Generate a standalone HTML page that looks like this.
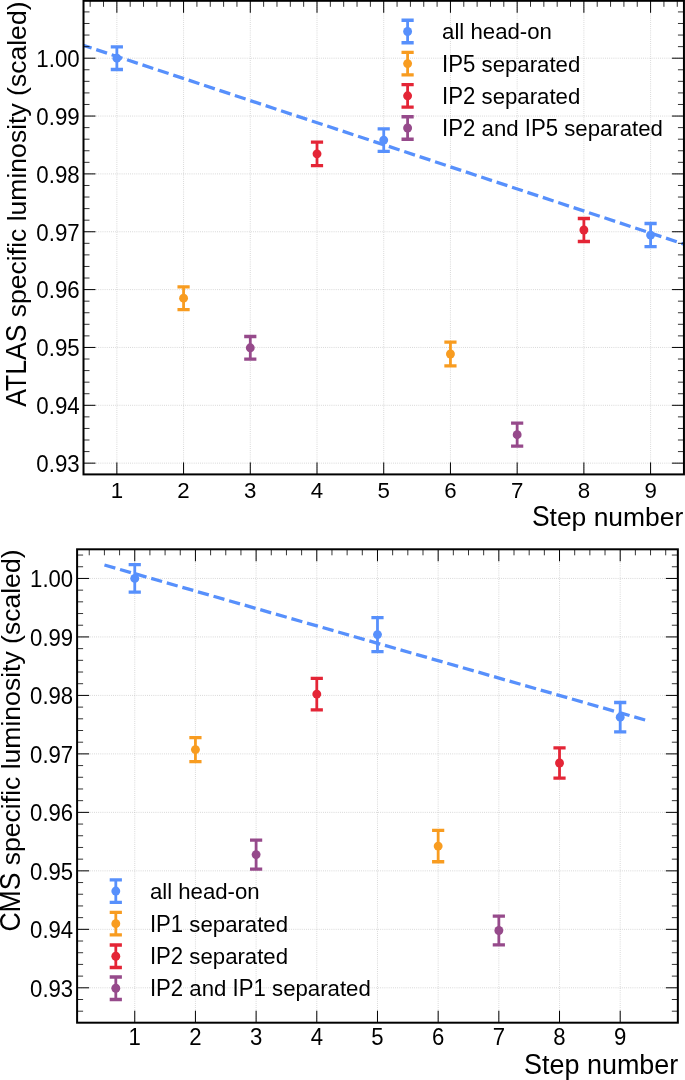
<!DOCTYPE html>
<html lang="en">
<head>
<meta charset="utf-8">
<title>Specific luminosity vs step number</title>
<style>
html,body{margin:0;padding:0;background:#fff;}
body{width:685px;height:1080px;overflow:hidden;}
svg{display:block;will-change:transform;}
svg text{font-family:"Liberation Sans", Arial, Helvetica, sans-serif;fill:#000;}
</style>
</head>
<body>
<svg width="685" height="1080" viewBox="0 0 685 1080">
<rect width="685" height="1080" fill="#fff"/>
<clipPath id="clipA"><rect x="83.5" y="0.8" width="600.45" height="473.6"/></clipPath>
<path d="M116.86 0.8V474.4M183.57 0.8V474.4M250.29 0.8V474.4M317.01 0.8V474.4M383.73 0.8V474.4M450.44 0.8V474.4M517.16 0.8V474.4M583.88 0.8V474.4M650.59 0.8V474.4M83.5 463.15H683.95M83.5 405.3H683.95M83.5 347.45H683.95M83.5 289.6H683.95M83.5 231.75H683.95M83.5 173.9H683.95M83.5 116.05H683.95M83.5 58.2H683.95" fill="none" stroke="#b0b0b0" stroke-width="0.8" stroke-dasharray="0.8 1.32" stroke-opacity="0.75" clip-path="url(#clipA)"/>
<path d="M80.87 44.5L685 244.47" fill="none" stroke="#5790fc" stroke-width="3.3" stroke-dasharray="11.32 4.90" stroke-dashoffset="0" clip-path="url(#clipA)"/>
<g stroke="#5790fc" fill="#5790fc"><path d="M116.86 46.9V69.5" stroke-width="2.8"/><path d="M110.76 46.9h12.2M110.76 69.5h12.2" stroke-width="3.3"/><circle cx="116.86" cy="58.2" r="4.45" stroke="none"/></g>
<g stroke="#f89c20" fill="#f89c20"><path d="M183.57 286.8V309.6" stroke-width="2.8"/><path d="M177.47 286.8h12.2M177.47 309.6h12.2" stroke-width="3.3"/><circle cx="183.57" cy="298.2" r="4.45" stroke="none"/></g>
<g stroke="#964a8b" fill="#964a8b"><path d="M250.29 336.5V359.1" stroke-width="2.8"/><path d="M244.19 336.5h12.2M244.19 359.1h12.2" stroke-width="3.3"/><circle cx="250.29" cy="347.8" r="4.45" stroke="none"/></g>
<g stroke="#e42536" fill="#e42536"><path d="M317.01 142.15V165.55" stroke-width="2.8"/><path d="M310.91 142.15h12.2M310.91 165.55h12.2" stroke-width="3.3"/><circle cx="317.01" cy="153.85" r="4.45" stroke="none"/></g>
<g stroke="#5790fc" fill="#5790fc"><path d="M383.73 128.8V151.4" stroke-width="2.8"/><path d="M377.62 128.8h12.2M377.62 151.4h12.2" stroke-width="3.3"/><circle cx="383.73" cy="140.1" r="4.45" stroke="none"/></g>
<g stroke="#f89c20" fill="#f89c20"><path d="M450.44 342.2V365.8" stroke-width="2.8"/><path d="M444.34 342.2h12.2M444.34 365.8h12.2" stroke-width="3.3"/><circle cx="450.44" cy="354" r="4.45" stroke="none"/></g>
<g stroke="#964a8b" fill="#964a8b"><path d="M517.16 423.2V446.2" stroke-width="2.8"/><path d="M511.06 423.2h12.2M511.06 446.2h12.2" stroke-width="3.3"/><circle cx="517.16" cy="434.7" r="4.45" stroke="none"/></g>
<g stroke="#e42536" fill="#e42536"><path d="M583.88 218.5V241.5" stroke-width="2.8"/><path d="M577.77 218.5h12.2M577.77 241.5h12.2" stroke-width="3.3"/><circle cx="583.88" cy="230" r="4.45" stroke="none"/></g>
<g stroke="#5790fc" fill="#5790fc"><path d="M650.59 223.5V246.7" stroke-width="2.8"/><path d="M644.49 223.5h12.2M644.49 246.7h12.2" stroke-width="3.3"/><circle cx="650.59" cy="235.1" r="4.45" stroke="none"/></g>
<path d="M116.86 474.4v-12M116.86 0.8v12M183.57 474.4v-12M183.57 0.8v12M250.29 474.4v-12M250.29 0.8v12M317.01 474.4v-12M317.01 0.8v12M383.73 474.4v-12M383.73 0.8v12M450.44 474.4v-12M450.44 0.8v12M517.16 474.4v-12M517.16 0.8v12M583.88 474.4v-12M583.88 0.8v12M650.59 474.4v-12M650.59 0.8v12M83.5 463.15h12M683.95 463.15h-12M83.5 405.3h12M683.95 405.3h-12M83.5 347.45h12M683.95 347.45h-12M83.5 289.6h12M683.95 289.6h-12M83.5 231.75h12M683.95 231.75h-12M83.5 173.9h12M683.95 173.9h-12M83.5 116.05h12M683.95 116.05h-12M83.5 58.2h12M683.95 58.2h-12" fill="none" stroke="#000" stroke-width="1.0"/>
<path d="M90.17 0.8v6M103.52 0.8v6M130.2 0.8v6M143.54 0.8v6M156.89 0.8v6M170.23 0.8v6M196.92 0.8v6M210.26 0.8v6M223.61 0.8v6M236.95 0.8v6M263.63 0.8v6M276.98 0.8v6M290.32 0.8v6M303.67 0.8v6M330.35 0.8v6M343.7 0.8v6M357.04 0.8v6M370.38 0.8v6M397.07 0.8v6M410.41 0.8v6M423.75 0.8v6M437.1 0.8v6M463.79 0.8v6M477.13 0.8v6M490.47 0.8v6M503.81 0.8v6M530.5 0.8v6M543.85 0.8v6M557.19 0.8v6M570.53 0.8v6M597.22 0.8v6M610.56 0.8v6M623.91 0.8v6M637.25 0.8v6M663.93 0.8v6M677.28 0.8v6M83.5 451.58h6M683.95 451.58h-6M83.5 440.01h6M683.95 440.01h-6M83.5 428.44h6M683.95 428.44h-6M83.5 416.87h6M683.95 416.87h-6M83.5 393.73h6M683.95 393.73h-6M83.5 382.16h6M683.95 382.16h-6M83.5 370.59h6M683.95 370.59h-6M83.5 359.02h6M683.95 359.02h-6M83.5 335.88h6M683.95 335.88h-6M83.5 324.31h6M683.95 324.31h-6M83.5 312.74h6M683.95 312.74h-6M83.5 301.17h6M683.95 301.17h-6M83.5 278.03h6M683.95 278.03h-6M83.5 266.46h6M683.95 266.46h-6M83.5 254.89h6M683.95 254.89h-6M83.5 243.32h6M683.95 243.32h-6M83.5 220.18h6M683.95 220.18h-6M83.5 208.61h6M683.95 208.61h-6M83.5 197.04h6M683.95 197.04h-6M83.5 185.47h6M683.95 185.47h-6M83.5 162.33h6M683.95 162.33h-6M83.5 150.76h6M683.95 150.76h-6M83.5 139.19h6M683.95 139.19h-6M83.5 127.62h6M683.95 127.62h-6M83.5 104.48h6M683.95 104.48h-6M83.5 92.91h6M683.95 92.91h-6M83.5 81.34h6M683.95 81.34h-6M83.5 69.77h6M683.95 69.77h-6M83.5 46.63h6M683.95 46.63h-6M83.5 35.06h6M683.95 35.06h-6M83.5 23.49h6M683.95 23.49h-6M83.5 11.92h6M683.95 11.92h-6" fill="none" stroke="#000" stroke-width="0.8"/>
<rect x="83.5" y="0.8" width="600.45" height="473.6" fill="none" stroke="#000" stroke-width="2.0"/>
<g font-size="22.3" text-anchor="middle">
<text transform="translate(116.86 497.5) scale(1 1.03)">1</text>
<text transform="translate(183.57 497.5) scale(1 1.03)">2</text>
<text transform="translate(250.29 497.5) scale(1 1.03)">3</text>
<text transform="translate(317.01 497.5) scale(1 1.03)">4</text>
<text transform="translate(383.73 497.5) scale(1 1.03)">5</text>
<text transform="translate(450.44 497.5) scale(1 1.03)">6</text>
<text transform="translate(517.16 497.5) scale(1 1.03)">7</text>
<text transform="translate(583.88 497.5) scale(1 1.03)">8</text>
<text transform="translate(650.59 497.5) scale(1 1.03)">9</text>
</g>
<g font-size="22.3" text-anchor="end">
<text transform="translate(79.7 472) scale(1 1.065)">0.93</text>
<text transform="translate(79.7 414.15) scale(1 1.065)">0.94</text>
<text transform="translate(79.7 356.3) scale(1 1.065)">0.95</text>
<text transform="translate(79.7 298.45) scale(1 1.065)">0.96</text>
<text transform="translate(79.7 240.6) scale(1 1.065)">0.97</text>
<text transform="translate(79.7 182.75) scale(1 1.065)">0.98</text>
<text transform="translate(79.7 124.9) scale(1 1.065)">0.99</text>
<text transform="translate(79.7 67.05) scale(1 1.065)">1.00</text>
</g>
<text transform="translate(683.3 525.8) scale(1 1.0)" font-size="26.45" text-anchor="end"><tspan font-size="29.10" textLength="17.64" lengthAdjust="spacingAndGlyphs">S</tspan>tep number</text>
<text transform="translate(25.9 1.5) rotate(-90) scale(1 1.0)" font-size="26.55" text-anchor="end"><tspan font-size="29.21" textLength="82.14" lengthAdjust="spacingAndGlyphs">ATLAS</tspan> specific luminosity (scaled)</text>
<g font-size="22.2">
<g stroke="#5790fc" fill="#5790fc"><path d="M407.6 20.25V42.75" stroke-width="2.8"/><path d="M401.5 20.25h12.2M401.5 42.75h12.2" stroke-width="3.3"/><circle cx="407.6" cy="31.5" r="4.45" stroke="none"/></g>
<text transform="translate(442.1 39.1) scale(1 1.0)">all head-on</text>
<g stroke="#f89c20" fill="#f89c20"><path d="M407.6 52.35V74.85" stroke-width="2.8"/><path d="M401.5 52.35h12.2M401.5 74.85h12.2" stroke-width="3.3"/><circle cx="407.6" cy="63.6" r="4.45" stroke="none"/></g>
<text transform="translate(442.1 71.7) scale(1 1.0)"><tspan font-size="23.20" textLength="33.31" lengthAdjust="spacingAndGlyphs">IP5</tspan> separated</text>
<g stroke="#e42536" fill="#e42536"><path d="M407.6 84.55V107.05" stroke-width="2.8"/><path d="M401.5 84.55h12.2M401.5 107.05h12.2" stroke-width="3.3"/><circle cx="407.6" cy="95.8" r="4.45" stroke="none"/></g>
<text transform="translate(442.1 104.2) scale(1 1.0)"><tspan font-size="23.20" textLength="33.31" lengthAdjust="spacingAndGlyphs">IP2</tspan> separated</text>
<g stroke="#964a8b" fill="#964a8b"><path d="M407.6 116.75V139.25" stroke-width="2.8"/><path d="M401.5 116.75h12.2M401.5 139.25h12.2" stroke-width="3.3"/><circle cx="407.6" cy="128" r="4.45" stroke="none"/></g>
<text transform="translate(442.1 135.6) scale(1 1.0)"><tspan font-size="23.20" textLength="33.31" lengthAdjust="spacingAndGlyphs">IP2</tspan> and <tspan font-size="23.20" textLength="33.33" lengthAdjust="spacingAndGlyphs">IP5</tspan> separated</text>
</g>
<clipPath id="clipB"><rect x="77.1" y="549.3" width="600.75" height="473.4"/></clipPath>
<path d="M134.75 549.3V1022.7M195.43 549.3V1022.7M256.11 549.3V1022.7M316.79 549.3V1022.7M377.48 549.3V1022.7M438.16 549.3V1022.7M498.84 549.3V1022.7M559.52 549.3V1022.7M620.2 549.3V1022.7M77.1 987.81H677.85M77.1 929.33H677.85M77.1 870.85H677.85M77.1 812.37H677.85M77.1 753.89H677.85M77.1 695.41H677.85M77.1 636.93H677.85M77.1 578.45H677.85" fill="none" stroke="#b0b0b0" stroke-width="0.8" stroke-dasharray="0.8 1.32" stroke-opacity="0.75" clip-path="url(#clipB)"/>
<path d="M104.45 565L645.6 720.13" fill="none" stroke="#5790fc" stroke-width="3.3" stroke-dasharray="11.32 4.89" stroke-dashoffset="0" clip-path="url(#clipB)"/>
<g stroke="#5790fc" fill="#5790fc"><path d="M134.75 564.7V592.1" stroke-width="2.8"/><path d="M128.65 564.7h12.2M128.65 592.1h12.2" stroke-width="3.3"/><circle cx="134.75" cy="578.4" r="4.45" stroke="none"/></g>
<g stroke="#f89c20" fill="#f89c20"><path d="M195.43 737.6V761.6" stroke-width="2.8"/><path d="M189.33 737.6h12.2M189.33 761.6h12.2" stroke-width="3.3"/><circle cx="195.43" cy="749.6" r="4.45" stroke="none"/></g>
<g stroke="#964a8b" fill="#964a8b"><path d="M256.11 840.1V869.1" stroke-width="2.8"/><path d="M250.01 840.1h12.2M250.01 869.1h12.2" stroke-width="3.3"/><circle cx="256.11" cy="854.6" r="4.45" stroke="none"/></g>
<g stroke="#e42536" fill="#e42536"><path d="M316.79 678.35V709.85" stroke-width="2.8"/><path d="M310.69 678.35h12.2M310.69 709.85h12.2" stroke-width="3.3"/><circle cx="316.79" cy="694.1" r="4.45" stroke="none"/></g>
<g stroke="#5790fc" fill="#5790fc"><path d="M377.48 617.6V651.6" stroke-width="2.8"/><path d="M371.38 617.6h12.2M371.38 651.6h12.2" stroke-width="3.3"/><circle cx="377.48" cy="634.6" r="4.45" stroke="none"/></g>
<g stroke="#f89c20" fill="#f89c20"><path d="M438.16 830.45V861.75" stroke-width="2.8"/><path d="M432.06 830.45h12.2M432.06 861.75h12.2" stroke-width="3.3"/><circle cx="438.16" cy="846.1" r="4.45" stroke="none"/></g>
<g stroke="#964a8b" fill="#964a8b"><path d="M498.84 916.2V944.8" stroke-width="2.8"/><path d="M492.74 916.2h12.2M492.74 944.8h12.2" stroke-width="3.3"/><circle cx="498.84" cy="930.5" r="4.45" stroke="none"/></g>
<g stroke="#e42536" fill="#e42536"><path d="M559.52 747.9V778.1" stroke-width="2.8"/><path d="M553.42 747.9h12.2M553.42 778.1h12.2" stroke-width="3.3"/><circle cx="559.52" cy="763" r="4.45" stroke="none"/></g>
<g stroke="#5790fc" fill="#5790fc"><path d="M620.2 702.5V731.9" stroke-width="2.8"/><path d="M614.1 702.5h12.2M614.1 731.9h12.2" stroke-width="3.3"/><circle cx="620.2" cy="717.2" r="4.45" stroke="none"/></g>
<path d="M134.75 1022.7v-12M134.75 549.3v12M195.43 1022.7v-12M195.43 549.3v12M256.11 1022.7v-12M256.11 549.3v12M316.79 1022.7v-12M316.79 549.3v12M377.48 1022.7v-12M377.48 549.3v12M438.16 1022.7v-12M438.16 549.3v12M498.84 1022.7v-12M498.84 549.3v12M559.52 1022.7v-12M559.52 549.3v12M620.2 1022.7v-12M620.2 549.3v12M77.1 987.81h12M677.85 987.81h-12M77.1 929.33h12M677.85 929.33h-12M77.1 870.85h12M677.85 870.85h-12M77.1 812.37h12M677.85 812.37h-12M77.1 753.89h12M677.85 753.89h-12M77.1 695.41h12M677.85 695.41h-12M77.1 636.93h12M677.85 636.93h-12M77.1 578.45h12M677.85 578.45h-12" fill="none" stroke="#000" stroke-width="1.0"/>
<path d="M89.24 549.3v6M104.41 549.3v6M119.58 549.3v6M149.92 549.3v6M165.09 549.3v6M180.26 549.3v6M210.6 549.3v6M225.77 549.3v6M240.94 549.3v6M271.28 549.3v6M286.45 549.3v6M301.62 549.3v6M331.96 549.3v6M347.13 549.3v6M362.3 549.3v6M392.65 549.3v6M407.82 549.3v6M422.99 549.3v6M453.33 549.3v6M468.5 549.3v6M483.67 549.3v6M514.01 549.3v6M529.18 549.3v6M544.35 549.3v6M574.69 549.3v6M589.86 549.3v6M605.03 549.3v6M635.37 549.3v6M650.54 549.3v6M665.71 549.3v6M77.1 1011.2h6M677.85 1011.2h-6M77.1 999.51h6M677.85 999.51h-6M77.1 976.11h6M677.85 976.11h-6M77.1 964.42h6M677.85 964.42h-6M77.1 952.72h6M677.85 952.72h-6M77.1 941.03h6M677.85 941.03h-6M77.1 917.63h6M677.85 917.63h-6M77.1 905.94h6M677.85 905.94h-6M77.1 894.24h6M677.85 894.24h-6M77.1 882.55h6M677.85 882.55h-6M77.1 859.15h6M677.85 859.15h-6M77.1 847.46h6M677.85 847.46h-6M77.1 835.76h6M677.85 835.76h-6M77.1 824.07h6M677.85 824.07h-6M77.1 800.67h6M677.85 800.67h-6M77.1 788.98h6M677.85 788.98h-6M77.1 777.28h6M677.85 777.28h-6M77.1 765.59h6M677.85 765.59h-6M77.1 742.19h6M677.85 742.19h-6M77.1 730.5h6M677.85 730.5h-6M77.1 718.8h6M677.85 718.8h-6M77.1 707.11h6M677.85 707.11h-6M77.1 683.71h6M677.85 683.71h-6M77.1 672.02h6M677.85 672.02h-6M77.1 660.32h6M677.85 660.32h-6M77.1 648.63h6M677.85 648.63h-6M77.1 625.23h6M677.85 625.23h-6M77.1 613.54h6M677.85 613.54h-6M77.1 601.84h6M677.85 601.84h-6M77.1 590.15h6M677.85 590.15h-6M77.1 566.75h6M677.85 566.75h-6M77.1 555.06h6M677.85 555.06h-6" fill="none" stroke="#000" stroke-width="0.8"/>
<rect x="77.1" y="549.3" width="600.75" height="473.4" fill="none" stroke="#000" stroke-width="2.0"/>
<g font-size="22.15" text-anchor="middle">
<text transform="translate(134.75 1045.4) scale(1 1.07)">1</text>
<text transform="translate(195.43 1045.4) scale(1 1.07)">2</text>
<text transform="translate(256.11 1045.4) scale(1 1.07)">3</text>
<text transform="translate(316.79 1045.4) scale(1 1.07)">4</text>
<text transform="translate(377.48 1045.4) scale(1 1.07)">5</text>
<text transform="translate(438.16 1045.4) scale(1 1.07)">6</text>
<text transform="translate(498.84 1045.4) scale(1 1.07)">7</text>
<text transform="translate(559.52 1045.4) scale(1 1.07)">8</text>
<text transform="translate(620.2 1045.4) scale(1 1.07)">9</text>
</g>
<g font-size="22.15" text-anchor="end">
<text transform="translate(73.2 996.66) scale(1 1.065)">0.93</text>
<text transform="translate(73.2 938.18) scale(1 1.065)">0.94</text>
<text transform="translate(73.2 879.7) scale(1 1.065)">0.95</text>
<text transform="translate(73.2 821.22) scale(1 1.065)">0.96</text>
<text transform="translate(73.2 762.74) scale(1 1.065)">0.97</text>
<text transform="translate(73.2 704.26) scale(1 1.065)">0.98</text>
<text transform="translate(73.2 645.78) scale(1 1.065)">0.99</text>
<text transform="translate(73.2 587.3) scale(1 1.065)">1.00</text>
</g>
<text transform="translate(678.3 1073.8) scale(1 1.0)" font-size="26.95" text-anchor="end"><tspan font-size="29.65" textLength="17.97" lengthAdjust="spacingAndGlyphs">S</tspan>tep number</text>
<text transform="translate(19.7 549.5) rotate(-90) scale(1 1.0)" font-size="26.55" text-anchor="end"><tspan font-size="29.21" textLength="59.00" lengthAdjust="spacingAndGlyphs">CMS</tspan> specific luminosity (scaled)</text>
<g font-size="22.2">
<g stroke="#5790fc" fill="#5790fc"><path d="M115.8 879.8V902.3" stroke-width="2.8"/><path d="M109.7 879.8h12.2M109.7 902.3h12.2" stroke-width="3.3"/><circle cx="115.8" cy="891.05" r="4.45" stroke="none"/></g>
<text transform="translate(149.9 898.65) scale(1 1.0)">all head-on</text>
<g stroke="#f89c20" fill="#f89c20"><path d="M115.8 912.4V934.9" stroke-width="2.8"/><path d="M109.7 912.4h12.2M109.7 934.9h12.2" stroke-width="3.3"/><circle cx="115.8" cy="923.65" r="4.45" stroke="none"/></g>
<text transform="translate(149.9 932.05) scale(1 1.0)"><tspan font-size="23.20" textLength="33.31" lengthAdjust="spacingAndGlyphs">IP1</tspan> separated</text>
<g stroke="#e42536" fill="#e42536"><path d="M115.8 945V967.5" stroke-width="2.8"/><path d="M109.7 945h12.2M109.7 967.5h12.2" stroke-width="3.3"/><circle cx="115.8" cy="956.25" r="4.45" stroke="none"/></g>
<text transform="translate(149.9 964.35) scale(1 1.0)"><tspan font-size="23.20" textLength="33.31" lengthAdjust="spacingAndGlyphs">IP2</tspan> separated</text>
<g stroke="#964a8b" fill="#964a8b"><path d="M115.8 977V999.5" stroke-width="2.8"/><path d="M109.7 977h12.2M109.7 999.5h12.2" stroke-width="3.3"/><circle cx="115.8" cy="988.25" r="4.45" stroke="none"/></g>
<text transform="translate(149.9 995.85) scale(1 1.0)"><tspan font-size="23.20" textLength="33.31" lengthAdjust="spacingAndGlyphs">IP2</tspan> and <tspan font-size="23.20" textLength="33.33" lengthAdjust="spacingAndGlyphs">IP1</tspan> separated</text>
</g>
</svg>
</body>
</html>
